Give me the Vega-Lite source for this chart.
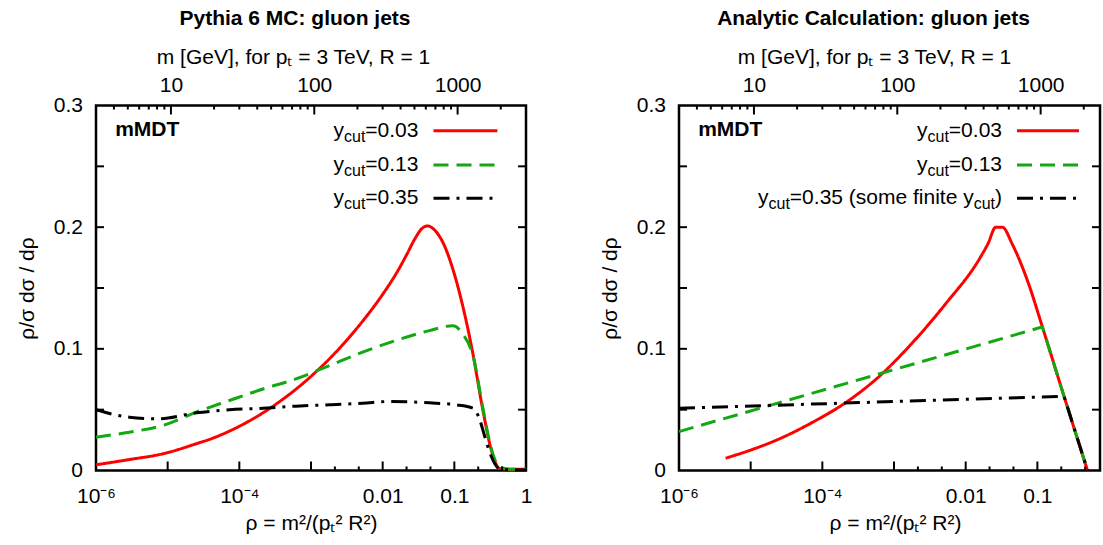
{
  "$schema": "https://vega.github.io/schema/vega-lite/v6.json",
  "padding": {"left": 15, "top": 6.5, "right": 0, "bottom": 0},
  "spacing": 64,
  "datasets": {
    "pythia": [
      {"s": "a", "rho": 1e-6, "val": 0.0047},
      {"s": "a", "rho": 2.92e-6, "val": 0.009},
      {"s": "a", "rho": 8.51e-6, "val": 0.0137},
      {"s": "a", "rho": 2.51e-5, "val": 0.022},
      {"s": "a", "rho": 4.32e-5, "val": 0.0267},
      {"s": "a", "rho": 7.41e-5, "val": 0.0326},
      {"s": "a", "rho": 1.27e-4, "val": 0.0396},
      {"s": "a", "rho": 2.19e-4, "val": 0.0478},
      {"s": "a", "rho": 3.76e-4, "val": 0.0572},
      {"s": "a", "rho": 6.46e-4, "val": 0.0678},
      {"s": "a", "rho": 1.11e-3, "val": 0.0798},
      {"s": "a", "rho": 1.91e-3, "val": 0.0932},
      {"s": "a", "rho": 3.27e-3, "val": 0.1082},
      {"s": "a", "rho": 5.62e-3, "val": 0.1249},
      {"s": "a", "rho": 9.66e-3, "val": 0.1435},
      {"s": "a", "rho": 0.0166, "val": 0.165},
      {"s": "a", "rho": 0.0219, "val": 0.178},
      {"s": "a", "rho": 0.0285, "val": 0.191},
      {"s": "a", "rho": 0.0355, "val": 0.199},
      {"s": "a", "rho": 0.0425, "val": 0.201},
      {"s": "a", "rho": 0.0501, "val": 0.199},
      {"s": "a", "rho": 0.0555, "val": 0.1964},
      {"s": "a", "rho": 0.0724, "val": 0.185},
      {"s": "a", "rho": 0.0948, "val": 0.166},
      {"s": "a", "rho": 0.1306, "val": 0.1356},
      {"s": "a", "rho": 0.1803, "val": 0.097},
      {"s": "a", "rho": 0.2483, "val": 0.0507},
      {"s": "a", "rho": 0.325, "val": 0.0178},
      {"s": "a", "rho": 0.4246, "val": 0.0019},
      {"s": "a", "rho": 0.6, "val": 0.001},
      {"s": "a", "rho": 1, "val": 0.001},
      {"s": "b", "rho": 1e-6, "val": 0.0274},
      {"s": "b", "rho": 2.92e-6, "val": 0.0315},
      {"s": "b", "rho": 8.51e-6, "val": 0.037},
      {"s": "b", "rho": 2.51e-5, "val": 0.048},
      {"s": "b", "rho": 7.24e-5, "val": 0.0575},
      {"s": "b", "rho": 2.14e-4, "val": 0.067},
      {"s": "b", "rho": 6.17e-4, "val": 0.0753},
      {"s": "b", "rho": 1.82e-3, "val": 0.0863},
      {"s": "b", "rho": 5.25e-3, "val": 0.0973},
      {"s": "b", "rho": 0.0155, "val": 0.107},
      {"s": "b", "rho": 0.0447, "val": 0.115},
      {"s": "b", "rho": 0.0955, "val": 0.119},
      {"s": "b", "rho": 0.132, "val": 0.112},
      {"s": "b", "rho": 0.182, "val": 0.0945},
      {"s": "b", "rho": 0.251, "val": 0.051},
      {"s": "b", "rho": 0.324, "val": 0.019},
      {"s": "b", "rho": 0.427, "val": 0.003},
      {"s": "b", "rho": 0.6, "val": 0.001},
      {"s": "b", "rho": 1, "val": 0.001},
      {"s": "c", "rho": 1e-6, "val": 0.0499},
      {"s": "c", "rho": 2.92e-6, "val": 0.0438},
      {"s": "c", "rho": 7.59e-6, "val": 0.0425},
      {"s": "c", "rho": 2.51e-5, "val": 0.0474},
      {"s": "c", "rho": 7.24e-5, "val": 0.0499},
      {"s": "c", "rho": 2.14e-4, "val": 0.0512},
      {"s": "c", "rho": 6.17e-4, "val": 0.0529},
      {"s": "c", "rho": 1.82e-3, "val": 0.054},
      {"s": "c", "rho": 5.25e-3, "val": 0.0553},
      {"s": "c", "rho": 0.0123, "val": 0.0567},
      {"s": "c", "rho": 0.0447, "val": 0.0556},
      {"s": "c", "rho": 0.105, "val": 0.054},
      {"s": "c", "rho": 0.182, "val": 0.0512},
      {"s": "c", "rho": 0.224, "val": 0.0425},
      {"s": "c", "rho": 0.263, "val": 0.0288},
      {"s": "c", "rho": 0.324, "val": 0.0123},
      {"s": "c", "rho": 0.427, "val": 0.0014},
      {"s": "c", "rho": 0.6, "val": 0.0005},
      {"s": "c", "rho": 1, "val": 0.0005}
    ],
    "analytic": [
      {"s": "a", "rho": 4.47e-6, "val": 0.0101},
      {"s": "a", "rho": 1e-5, "val": 0.0168},
      {"s": "a", "rho": 2.51e-5, "val": 0.026},
      {"s": "a", "rho": 7.24e-5, "val": 0.0395},
      {"s": "a", "rho": 2.14e-4, "val": 0.056},
      {"s": "a", "rho": 6.17e-4, "val": 0.0772},
      {"s": "a", "rho": 1.82e-3, "val": 0.1052},
      {"s": "a", "rho": 5.25e-3, "val": 0.137},
      {"s": "a", "rho": 0.0155, "val": 0.1738},
      {"s": "a", "rho": 0.0204, "val": 0.1862},
      {"s": "a", "rho": 0.0263, "val": 0.2},
      {"s": "a", "rho": 0.0324, "val": 0.2},
      {"s": "a", "rho": 0.0447, "val": 0.186},
      {"s": "a", "rho": 0.0759, "val": 0.153},
      {"s": "a", "rho": 0.1175, "val": 0.118},
      {"s": "a", "rho": 0.2355, "val": 0.061},
      {"s": "a", "rho": 0.501, "val": 0},
      {"s": "b", "rho": 1e-6, "val": 0.032},
      {"s": "b", "rho": 0.1175, "val": 0.118},
      {"s": "b", "rho": 0.2355, "val": 0.061},
      {"s": "b", "rho": 0.501, "val": 0},
      {"s": "c", "rho": 1e-6, "val": 0.0512},
      {"s": "c", "rho": 0.2355, "val": 0.061},
      {"s": "c", "rho": 0.501, "val": 0}
    ],
    "legLineL": [
      {"s": "a", "rho": 0.0512, "rho2": 0.399, "val": 0.2792},
      {"s": "b", "rho": 0.0512, "rho2": 0.399, "val": 0.251},
      {"s": "c", "rho": 0.0512, "rho2": 0.399, "val": 0.2237}
    ],
    "legTextL": [
      {"rho": 0.0316, "val": 0.2792, "eq": "=0.03"},
      {"rho": 0.0316, "val": 0.251, "eq": "=0.13"},
      {"rho": 0.0316, "val": 0.2237, "eq": "=0.35"}
    ],
    "legLineR": [
      {"s": "a", "rho": 0.052, "rho2": 0.381, "val": 0.2792},
      {"s": "b", "rho": 0.052, "rho2": 0.381, "val": 0.251},
      {"s": "c", "rho": 0.052, "rho2": 0.381, "val": 0.2237}
    ],
    "legTextR12": [
      {"rho": 0.0321, "val": 0.2792, "eq": "=0.03"},
      {"rho": 0.0321, "val": 0.251, "eq": "=0.13"}
    ],
    "legTextR3": [
      {"rho": 0.0321, "val": 0.2237, "p1": ")", "p3": "=0.35 (some finite y"}
    ],
    "mmdt": [
      {"rho": 1.85e-6, "val": 0.2795, "label": "mMDT"}
    ],
    "tickRhoMajor": [{"rho": 1e-5}, {"rho": 1e-4}, {"rho": 1e-3}, {"rho": 0.01}, {"rho": 0.1}],
    "tickRhoMinor": [{"rho": 0.002154}, {"rho": 0.004642}, {"rho": 0.02154}, {"rho": 0.04642}, {"rho": 0.2154}, {"rho": 0.4642}],
    "tickVal": [{"val": 0.05}, {"val": 0.1}, {"val": 0.15}, {"val": 0.2}, {"val": 0.25}],
    "tickMMajor": [{"m": 10}, {"m": 100}, {"m": 1000}],
    "tickMMinor": [{"m": 4}, {"m": 5}, {"m": 6}, {"m": 7}, {"m": 8}, {"m": 9}, {"m": 20}, {"m": 30}, {"m": 40}, {"m": 50}, {"m": 60}, {"m": 70}, {"m": 80}, {"m": 90}, {"m": 200}, {"m": 300}, {"m": 400}, {"m": 500}, {"m": 600}, {"m": 700}, {"m": 800}, {"m": 900}, {"m": 2000}]
  },
  "hconcat": [
    {
      "width": 430,
      "height": 365,
      "title": {"text": "Pythia 6 MC: gluon jets", "dx": -16, "offset": 17},
      "layer": [
        {
          "encoding": {
            "x": {
              "field": "rho", "type": "quantitative",
              "scale": {"type": "log", "domain": [1e-6, 1], "nice": false},
              "axis": {
                "orient": "bottom",
                "values": [1e-6, 1e-4, 0.01, 0.1, 1],
                "labelExpr": "datum.value < 1.5e-6 ? '10⁻⁶' : (datum.value > 9e-5 && datum.value < 1.1e-4) ? '10⁻⁴' : (datum.value > 0.0099 && datum.value < 0.0101) ? '0.01' : (datum.value > 0.099 && datum.value < 0.101) ? '0.1' : (datum.value > 0.99) ? '1' : ''",
                "ticks": false,
                "labelPadding": 15,
                "labelFlush": false,
                "labelOverlap": false,
                "title": "ρ = m²/(pₜ² R²)",
                "titlePadding": 5.5
              }
            },
            "y": {
              "field": "val", "type": "quantitative",
              "scale": {"domain": [0, 0.3], "nice": false, "zero": false},
              "axis": {
                "orient": "left",
                "values": [0, 0.1, 0.2, 0.3],
                "labelExpr": "datum.value == 0 ? '0' : format(datum.value, '.1f')",
                "ticks": false,
                "labelPadding": 13.5,
                "labelFlush": false,
                "title": "ρ/σ dσ / dρ",
                "titlePadding": 16
              }
            }
          },
          "layer": [
            {
              "data": {"name": "pythia"},
              "transform": [{"filter": "datum.s == 'a'"}],
              "mark": {"type": "line", "strokeWidth": 3, "interpolate": "monotone"},
              "encoding": {
                "color": {"field": "s", "type": "nominal", "scale": {"domain": ["a", "b", "c"], "range": ["#ff0000", "#12a812", "#000000"]}, "legend": null},
                "strokeDash": {"field": "s", "type": "nominal", "scale": {"domain": ["a", "b", "c"], "range": [[1, 0], [15, 8], [16, 7, 3, 7]]}, "legend": null}
              }
            },
            {
              "data": {"name": "pythia"},
              "transform": [{"filter": "datum.s == 'b'"}],
              "mark": {"type": "line", "strokeWidth": 3, "interpolate": "monotone"},
              "encoding": {
                "color": {"field": "s", "type": "nominal", "scale": {"domain": ["a", "b", "c"], "range": ["#ff0000", "#12a812", "#000000"]}, "legend": null},
                "strokeDash": {"field": "s", "type": "nominal", "scale": {"domain": ["a", "b", "c"], "range": [[1, 0], [15, 8], [16, 7, 3, 7]]}, "legend": null}
              }
            },
            {
              "data": {"name": "pythia"},
              "transform": [{"filter": "datum.s == 'c'"}],
              "mark": {"type": "line", "strokeWidth": 3, "interpolate": "monotone"},
              "encoding": {
                "color": {"field": "s", "type": "nominal", "scale": {"domain": ["a", "b", "c"], "range": ["#ff0000", "#12a812", "#000000"]}, "legend": null},
                "strokeDash": {"field": "s", "type": "nominal", "scale": {"domain": ["a", "b", "c"], "range": [[1, 0], [15, 8], [16, 7, 3, 7]]}, "legend": null}
              }
            },
            {
              "data": {"name": "legLineL"},
              "mark": {"type": "rule", "strokeWidth": 3},
              "encoding": {
                "x2": {"field": "rho2"},
                "color": {"field": "s", "type": "nominal", "scale": {"domain": ["a", "b", "c"], "range": ["#ff0000", "#12a812", "#000000"]}, "legend": null},
                "strokeDash": {"field": "s", "type": "nominal", "scale": {"domain": ["a", "b", "c"], "range": [[1, 0], [15, 8], [16, 7, 3, 7]]}, "legend": null}
              }
            },
            {
              "data": {"name": "legTextL"},
              "mark": {"type": "text", "align": "right", "baseline": "middle", "fontSize": 21, "color": "#000"},
              "encoding": {"text": {"field": "eq"}}
            },
            {
              "data": {"name": "legTextL"},
              "mark": {"type": "text", "align": "right", "baseline": "middle", "fontSize": 16, "dx": -53.1, "dy": 6, "text": "cut", "color": "#000"},
              "encoding": {}
            },
            {
              "data": {"name": "legTextL"},
              "mark": {"type": "text", "align": "right", "baseline": "middle", "fontSize": 21, "dx": -74.4, "text": "y", "color": "#000"},
              "encoding": {}
            },
            {
              "data": {"name": "mmdt"},
              "mark": {"type": "text", "align": "left", "baseline": "middle", "fontSize": 21, "fontWeight": "bold", "color": "#000"},
              "encoding": {"text": {"field": "label"}}
            }
          ]
        },
        {
          "data": {"values": [{"m": 10, "val": 0}]},
          "mark": {"type": "point", "opacity": 0},
          "encoding": {
            "x": {
              "field": "m", "type": "quantitative",
              "scale": {"type": "log", "domain": [3, 3000], "nice": false},
              "axis": {
                "orient": "top",
                "values": [10, 100, 1000],
                "labelExpr": "datum.value == 10 ? '10' : datum.value == 100 ? '100' : '1000'",
                "ticks": false,
                "labelPadding": 10.5,
                "labelFlush": false,
                "labelOverlap": false,
                "title": "m [GeV], for pₜ = 3 TeV, R = 1",
                "titlePadding": 7,
                "titleX": 197,
                "titleAlign": "center"
              }
            },
            "y": {
              "field": "val", "type": "quantitative",
              "scale": {"domain": [0, 0.3], "nice": false, "zero": false},
              "axis": null
            }
          }
        },
        {
          "data": {"name": "tickRhoMajor"},
          "mark": {"type": "rule", "stroke": "#000000", "strokeWidth": 2},
          "encoding": {
            "x": {"field": "rho", "type": "quantitative", "scale": {"type": "log", "domain": [1e-6, 1], "nice": false}, "axis": null},
            "y": {"datum": 0, "type": "quantitative", "scale": {"domain": [0, 0.3], "nice": false, "zero": false}, "axis": null},
            "y2": {"datum": 0.0074}
          }
        },
        {
          "data": {"name": "tickRhoMinor"},
          "mark": {"type": "rule", "stroke": "#000000", "strokeWidth": 2},
          "encoding": {
            "x": {"field": "rho", "type": "quantitative", "scale": {"type": "log", "domain": [1e-6, 1], "nice": false}, "axis": null},
            "y": {"datum": 0, "type": "quantitative", "scale": {"domain": [0, 0.3], "nice": false, "zero": false}, "axis": null},
            "y2": {"datum": 0.0033}
          }
        },
        {
          "data": {"name": "tickVal"},
          "mark": {"type": "rule", "stroke": "#000000", "strokeWidth": 2},
          "encoding": {
            "x": {"datum": 1e-6, "type": "quantitative", "scale": {"type": "log", "domain": [1e-6, 1], "nice": false}, "axis": null},
            "x2": {"datum": 1.293e-6},
            "y": {"field": "val", "type": "quantitative", "scale": {"domain": [0, 0.3], "nice": false, "zero": false}, "axis": null}
          }
        },
        {
          "data": {"name": "tickVal"},
          "mark": {"type": "rule", "stroke": "#000000", "strokeWidth": 2},
          "encoding": {
            "x": {"datum": 0.7733, "type": "quantitative", "scale": {"type": "log", "domain": [1e-6, 1], "nice": false}, "axis": null},
            "x2": {"datum": 1},
            "y": {"field": "val", "type": "quantitative", "scale": {"domain": [0, 0.3], "nice": false, "zero": false}, "axis": null}
          }
        },
        {
          "data": {"name": "tickMMajor"},
          "mark": {"type": "rule", "stroke": "#000000", "strokeWidth": 2},
          "encoding": {
            "x": {"field": "m", "type": "quantitative", "scale": {"type": "log", "domain": [3, 3000], "nice": false}, "axis": null},
            "y": {"datum": 0.3, "type": "quantitative", "scale": {"domain": [0, 0.3], "nice": false, "zero": false}, "axis": null},
            "y2": {"datum": 0.2926}
          }
        },
        {
          "data": {"name": "tickMMinor"},
          "mark": {"type": "rule", "stroke": "#000000", "strokeWidth": 2},
          "encoding": {
            "x": {"field": "m", "type": "quantitative", "scale": {"type": "log", "domain": [3, 3000], "nice": false}, "axis": null},
            "y": {"datum": 0.3, "type": "quantitative", "scale": {"domain": [0, 0.3], "nice": false, "zero": false}, "axis": null},
            "y2": {"datum": 0.2967}
          }
        }
      ],
      "resolve": {"scale": {"x": "independent"}, "axis": {"x": "independent", "y": "independent"}}
    },
    {
      "width": 421,
      "height": 365,
      "title": {"text": "Analytic Calculation: gluon jets", "dx": -16, "offset": 17},
      "layer": [
        {
          "encoding": {
            "x": {
              "field": "rho", "type": "quantitative",
              "scale": {"type": "log", "domain": [1e-6, 0.748], "nice": false},
              "axis": {
                "orient": "bottom",
                "values": [1e-6, 1e-4, 0.01, 0.1],
                "labelExpr": "datum.value < 1.5e-6 ? '10⁻⁶' : (datum.value > 9e-5 && datum.value < 1.1e-4) ? '10⁻⁴' : (datum.value > 0.0099 && datum.value < 0.0101) ? '0.01' : (datum.value > 0.099 && datum.value < 0.101) ? '0.1' : (datum.value > 0.99) ? '1' : ''",
                "ticks": false,
                "labelPadding": 15,
                "labelFlush": false,
                "labelOverlap": false,
                "title": "ρ = m²/(pₜ² R²)",
                "titlePadding": 5.5,
                "titleX": 216,
                "titleAlign": "center"
              }
            },
            "y": {
              "field": "val", "type": "quantitative",
              "scale": {"domain": [0, 0.3], "nice": false, "zero": false},
              "axis": {
                "orient": "left",
                "values": [0, 0.1, 0.2, 0.3],
                "labelExpr": "datum.value == 0 ? '0' : format(datum.value, '.1f')",
                "ticks": false,
                "labelPadding": 13.5,
                "labelFlush": false,
                "title": "ρ/σ dσ / dρ",
                "titlePadding": 16
              }
            }
          },
          "layer": [
            {
              "data": {"name": "analytic"},
              "transform": [{"filter": "datum.s == 'a'"}],
              "mark": {"type": "line", "strokeWidth": 3, "interpolate": "monotone"},
              "encoding": {
                "color": {"field": "s", "type": "nominal", "scale": {"domain": ["a", "b", "c"], "range": ["#ff0000", "#12a812", "#000000"]}, "legend": null},
                "strokeDash": {"field": "s", "type": "nominal", "scale": {"domain": ["a", "b", "c"], "range": [[1, 0], [15, 8], [16, 7, 3, 7]]}, "legend": null}
              }
            },
            {
              "data": {"name": "analytic"},
              "transform": [{"filter": "datum.s == 'b'"}],
              "mark": {"type": "line", "strokeWidth": 3},
              "encoding": {
                "color": {"field": "s", "type": "nominal", "scale": {"domain": ["a", "b", "c"], "range": ["#ff0000", "#12a812", "#000000"]}, "legend": null},
                "strokeDash": {"field": "s", "type": "nominal", "scale": {"domain": ["a", "b", "c"], "range": [[1, 0], [15, 8], [16, 7, 3, 7]]}, "legend": null}
              }
            },
            {
              "data": {"name": "analytic"},
              "transform": [{"filter": "datum.s == 'c'"}],
              "mark": {"type": "line", "strokeWidth": 3},
              "encoding": {
                "color": {"field": "s", "type": "nominal", "scale": {"domain": ["a", "b", "c"], "range": ["#ff0000", "#12a812", "#000000"]}, "legend": null},
                "strokeDash": {"field": "s", "type": "nominal", "scale": {"domain": ["a", "b", "c"], "range": [[1, 0], [15, 8], [16, 7, 3, 7]]}, "legend": null}
              }
            },
            {
              "data": {"name": "legLineR"},
              "mark": {"type": "rule", "strokeWidth": 3},
              "encoding": {
                "x2": {"field": "rho2"},
                "color": {"field": "s", "type": "nominal", "scale": {"domain": ["a", "b", "c"], "range": ["#ff0000", "#12a812", "#000000"]}, "legend": null},
                "strokeDash": {"field": "s", "type": "nominal", "scale": {"domain": ["a", "b", "c"], "range": [[1, 0], [15, 8], [16, 7, 3, 7]]}, "legend": null}
              }
            },
            {
              "data": {"name": "legTextR12"},
              "mark": {"type": "text", "align": "right", "baseline": "middle", "fontSize": 21, "color": "#000"},
              "encoding": {"text": {"field": "eq"}}
            },
            {
              "data": {"name": "legTextR12"},
              "mark": {"type": "text", "align": "right", "baseline": "middle", "fontSize": 16, "dx": -53.1, "dy": 6, "text": "cut", "color": "#000"},
              "encoding": {}
            },
            {
              "data": {"name": "legTextR12"},
              "mark": {"type": "text", "align": "right", "baseline": "middle", "fontSize": 21, "dx": -74.4, "text": "y", "color": "#000"},
              "encoding": {}
            },
            {
              "data": {"name": "legTextR3"},
              "mark": {"type": "text", "align": "right", "baseline": "middle", "fontSize": 21, "color": "#000"},
              "encoding": {"text": {"field": "p1"}}
            },
            {
              "data": {"name": "legTextR3"},
              "mark": {"type": "text", "align": "right", "baseline": "middle", "fontSize": 16, "dx": -7, "dy": 6, "text": "cut", "color": "#000"},
              "encoding": {}
            },
            {
              "data": {"name": "legTextR3"},
              "mark": {"type": "text", "align": "right", "baseline": "middle", "fontSize": 21, "dx": -28.3, "color": "#000"},
              "encoding": {"text": {"field": "p3"}}
            },
            {
              "data": {"name": "legTextR3"},
              "mark": {"type": "text", "align": "right", "baseline": "middle", "fontSize": 16, "dx": -212.1, "dy": 6, "text": "cut", "color": "#000"},
              "encoding": {}
            },
            {
              "data": {"name": "legTextR3"},
              "mark": {"type": "text", "align": "right", "baseline": "middle", "fontSize": 21, "dx": -233.4, "text": "y", "color": "#000"},
              "encoding": {}
            },
            {
              "data": {"name": "mmdt"},
              "mark": {"type": "text", "align": "left", "baseline": "middle", "fontSize": 21, "fontWeight": "bold", "color": "#000"},
              "encoding": {"text": {"field": "label"}}
            }
          ]
        },
        {
          "data": {"values": [{"m": 10, "val": 0}]},
          "mark": {"type": "point", "opacity": 0},
          "encoding": {
            "x": {
              "field": "m", "type": "quantitative",
              "scale": {"type": "log", "domain": [3, 2595], "nice": false},
              "axis": {
                "orient": "top",
                "values": [10, 100, 1000],
                "labelExpr": "datum.value == 10 ? '10' : datum.value == 100 ? '100' : '1000'",
                "ticks": false,
                "labelPadding": 10.5,
                "labelFlush": false,
                "labelOverlap": false,
                "title": "m [GeV], for pₜ = 3 TeV, R = 1",
                "titlePadding": 7,
                "titleX": 195,
                "titleAlign": "center"
              }
            },
            "y": {
              "field": "val", "type": "quantitative",
              "scale": {"domain": [0, 0.3], "nice": false, "zero": false},
              "axis": null
            }
          }
        },
        {
          "data": {"name": "tickRhoMajor"},
          "mark": {"type": "rule", "stroke": "#000000", "strokeWidth": 2},
          "encoding": {
            "x": {"field": "rho", "type": "quantitative", "scale": {"type": "log", "domain": [1e-6, 0.748], "nice": false}, "axis": null},
            "y": {"datum": 0, "type": "quantitative", "scale": {"domain": [0, 0.3], "nice": false, "zero": false}, "axis": null},
            "y2": {"datum": 0.0074}
          }
        },
        {
          "data": {"name": "tickRhoMinor"},
          "mark": {"type": "rule", "stroke": "#000000", "strokeWidth": 2},
          "encoding": {
            "x": {"field": "rho", "type": "quantitative", "scale": {"type": "log", "domain": [1e-6, 0.748], "nice": false}, "axis": null},
            "y": {"datum": 0, "type": "quantitative", "scale": {"domain": [0, 0.3], "nice": false, "zero": false}, "axis": null},
            "y2": {"datum": 0.0033}
          }
        },
        {
          "data": {"name": "tickVal"},
          "mark": {"type": "rule", "stroke": "#000000", "strokeWidth": 2},
          "encoding": {
            "x": {"datum": 1e-6, "type": "quantitative", "scale": {"type": "log", "domain": [1e-6, 0.748], "nice": false}, "axis": null},
            "x2": {"datum": 1.293e-6},
            "y": {"field": "val", "type": "quantitative", "scale": {"domain": [0, 0.3], "nice": false, "zero": false}, "axis": null}
          }
        },
        {
          "data": {"name": "tickVal"},
          "mark": {"type": "rule", "stroke": "#000000", "strokeWidth": 2},
          "encoding": {
            "x": {"datum": 0.5784, "type": "quantitative", "scale": {"type": "log", "domain": [1e-6, 0.748], "nice": false}, "axis": null},
            "x2": {"datum": 0.748},
            "y": {"field": "val", "type": "quantitative", "scale": {"domain": [0, 0.3], "nice": false, "zero": false}, "axis": null}
          }
        },
        {
          "data": {"name": "tickMMajor"},
          "mark": {"type": "rule", "stroke": "#000000", "strokeWidth": 2},
          "encoding": {
            "x": {"field": "m", "type": "quantitative", "scale": {"type": "log", "domain": [3, 2595], "nice": false}, "axis": null},
            "y": {"datum": 0.3, "type": "quantitative", "scale": {"domain": [0, 0.3], "nice": false, "zero": false}, "axis": null},
            "y2": {"datum": 0.2926}
          }
        },
        {
          "data": {"name": "tickMMinor"},
          "mark": {"type": "rule", "stroke": "#000000", "strokeWidth": 2},
          "encoding": {
            "x": {"field": "m", "type": "quantitative", "scale": {"type": "log", "domain": [3, 2595], "nice": false}, "axis": null},
            "y": {"datum": 0.3, "type": "quantitative", "scale": {"domain": [0, 0.3], "nice": false, "zero": false}, "axis": null},
            "y2": {"datum": 0.2967}
          }
        }
      ],
      "resolve": {"scale": {"x": "independent"}, "axis": {"x": "independent", "y": "independent"}}
    }
  ],
  "resolve": {"scale": {"x": "independent", "y": "independent", "color": "independent", "strokeDash": "independent"}},
  "config": {
    "font": "Liberation Sans",
    "background": "white",
    "view": {"stroke": "#000000", "strokeWidth": 2.5},
    "axis": {
      "domain": false,
      "grid": false,
      "labelFont": "Liberation Sans",
      "labelFontSize": 21,
      "labelColor": "#000000",
      "titleFont": "Liberation Sans",
      "titleFontSize": 21,
      "titleFontWeight": "normal",
      "titleColor": "#000000"
    },
    "title": {"font": "Liberation Sans", "fontSize": 21, "fontWeight": "bold", "color": "#000000"},
    "text": {"font": "Liberation Sans"}
  }
}
